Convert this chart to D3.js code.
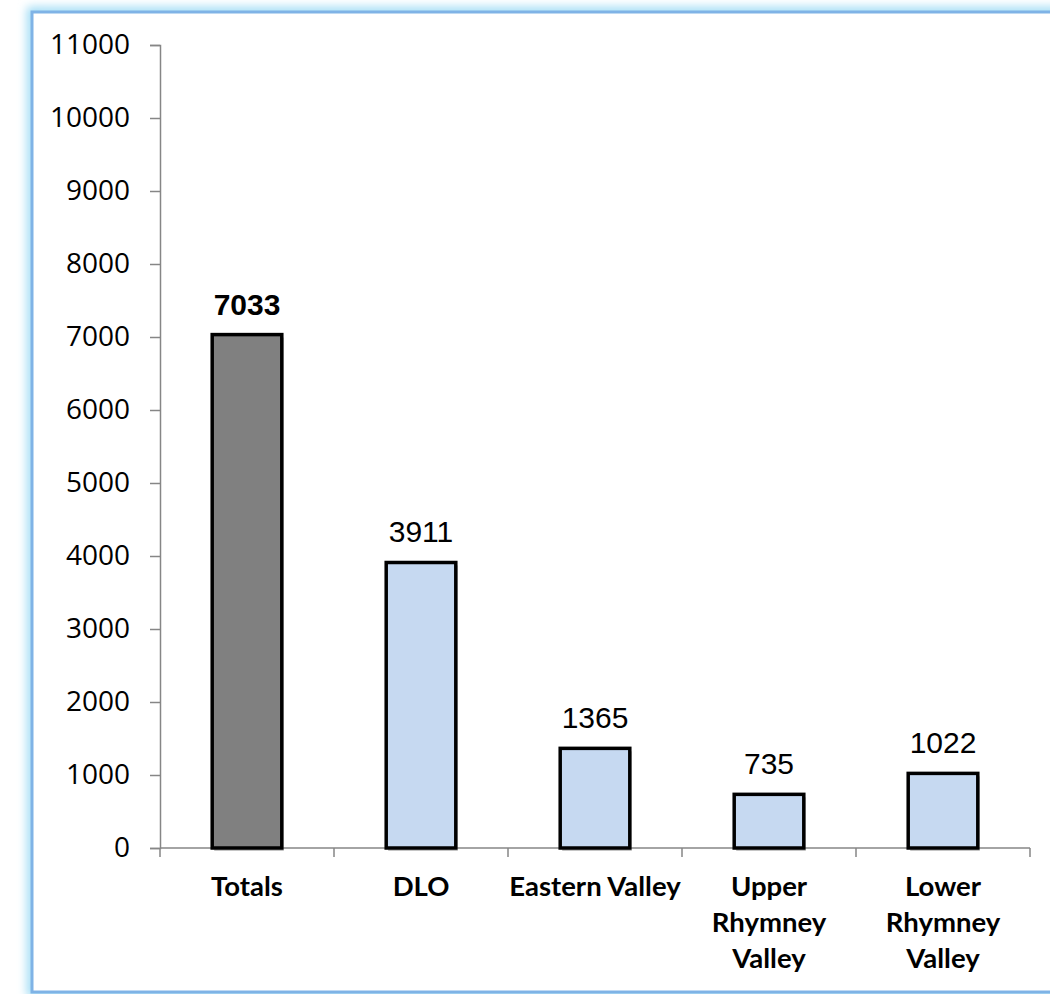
<!DOCTYPE html>
<html>
<head>
<meta charset="utf-8">
<script src="https://cdn.jsdelivr.net/npm/d3@7"></script>
<style>
  body { margin: 0; background: #fff; }
</style>
</head>
<body>
<svg width="1050" height="994"></svg>
<script>
var categories = [["Totals"], ["DLO"], ["Eastern Valley"], ["Upper", "Rhymney", "Valley"], ["Lower", "Rhymney", "Valley"]];
var values = [7033, 3911, 1365, 735, 1022];
var yTicks = [0, 1000, 2000, 3000, 4000, 5000, 6000, 7000, 8000, 9000, 10000, 11000];

var svg = d3.select("svg"),
    width = +svg.attr("width"),
    height = +svg.attr("height");

// frame with soft glow
var defs = svg.append("defs");
var glow = defs.append("filter").attr("id", "glow")
    .attr("x", "-5%").attr("y", "-5%").attr("width", "110%").attr("height", "110%");
glow.append("feGaussianBlur").attr("stdDeviation", 5);

svg.append("rect")
    .attr("x", 32).attr("y", 12).attr("width", 1040).attr("height", 980)
    .attr("fill", "none").attr("stroke", "#9fdcf5").attr("stroke-width", 10)
    .attr("filter", "url(#glow)");
svg.append("rect")
    .attr("x", 32).attr("y", 12).attr("width", 1040).attr("height", 980)
    .attr("fill", "#fff").attr("stroke", "#7fb3e6").attr("stroke-width", 3);

var x = d3.scaleBand()
    .domain(d3.range(categories.length))
    .range([160, 1030])
    .paddingInner(0.6).paddingOuter(0.3);

var y = d3.scaleLinear().domain([0, 11000]).range([848, 45]);

// y axis
var yAxis = svg.append("g")
    .attr("transform", "translate(160,0)")
    .call(d3.axisLeft(y).tickValues(yTicks).tickSize(10).tickPadding(20).tickFormat(d3.format("d")));
yAxis.select(".domain").attr("stroke", "#868686").attr("stroke-width", 1.5);
yAxis.selectAll(".tick line").attr("stroke", "#868686").attr("stroke-width", 1.5);
yAxis.selectAll("text")
    .attr("font-family", "Open Sans, sans-serif")
    .attr("font-size", 28).attr("fill", "#000");

// x axis line and category ticks
var step = (1030 - 160) / categories.length;
svg.append("line")
    .attr("x1", 160).attr("x2", 1030).attr("y1", y(0)).attr("y2", y(0))
    .attr("stroke", "#868686").attr("stroke-width", 1.5);
svg.selectAll(".xtick")
    .data(d3.range(categories.length + 1))
    .enter().append("line")
    .attr("class", "xtick")
    .attr("x1", function(d) { return 160 + d * step; })
    .attr("x2", function(d) { return 160 + d * step; })
    .attr("y1", y(0)).attr("y2", y(0) + 9)
    .attr("stroke", "#868686").attr("stroke-width", 1.5);

// bar shadow
svg.selectAll(".shadow")
    .data(values)
    .enter().append("rect")
    .attr("x", function(d, i) { return x(i) + 2; })
    .attr("y", function(d) { return y(d) + 3; })
    .attr("width", x.bandwidth())
    .attr("height", function(d) { return y(0) - y(d); })
    .attr("fill", "#555").attr("opacity", 0.35);

// bars
svg.selectAll(".bar")
    .data(values)
    .enter().append("rect")
    .attr("class", "bar")
    .attr("x", function(d, i) { return x(i); })
    .attr("y", function(d) { return y(d); })
    .attr("width", x.bandwidth())
    .attr("height", function(d) { return y(0) - y(d); })
    .attr("fill", function(d, i) { return i == 0 ? "#808080" : "#c6d9f1"; })
    .attr("stroke", "#000").attr("stroke-width", 3.5);

// value labels
svg.selectAll(".val")
    .data(values)
    .enter().append("text")
    .attr("x", function(d, i) { return x(i) + x.bandwidth() / 2; })
    .attr("y", function(d) { return y(d) - 20; })
    .attr("text-anchor", "middle")
    .attr("font-family", "Liberation Sans, Arial, sans-serif")
    .attr("font-size", 30)
    .attr("font-weight", function(d, i) { return i == 0 ? "bold" : "normal"; })
    .text(function(d) { return d; });

// category labels
var cat = svg.selectAll(".cat")
    .data(categories)
    .enter().append("text")
    .attr("text-anchor", "middle")
    .attr("font-family", "Lato, Open Sans, sans-serif")
    .attr("font-weight", "bold")
    .attr("font-size", 27.5)
    .attr("transform", function(d, i) { return "translate(" + (x(i) + x.bandwidth() / 2) + ",896)"; });
cat.selectAll("tspan")
    .data(function(d) { return d; })
    .enter().append("tspan")
    .attr("x", 0)
    .attr("dy", function(d, j) { return j == 0 ? 0 : 36; })
    .text(function(d) { return d; });
</script>
</body>
</html>
